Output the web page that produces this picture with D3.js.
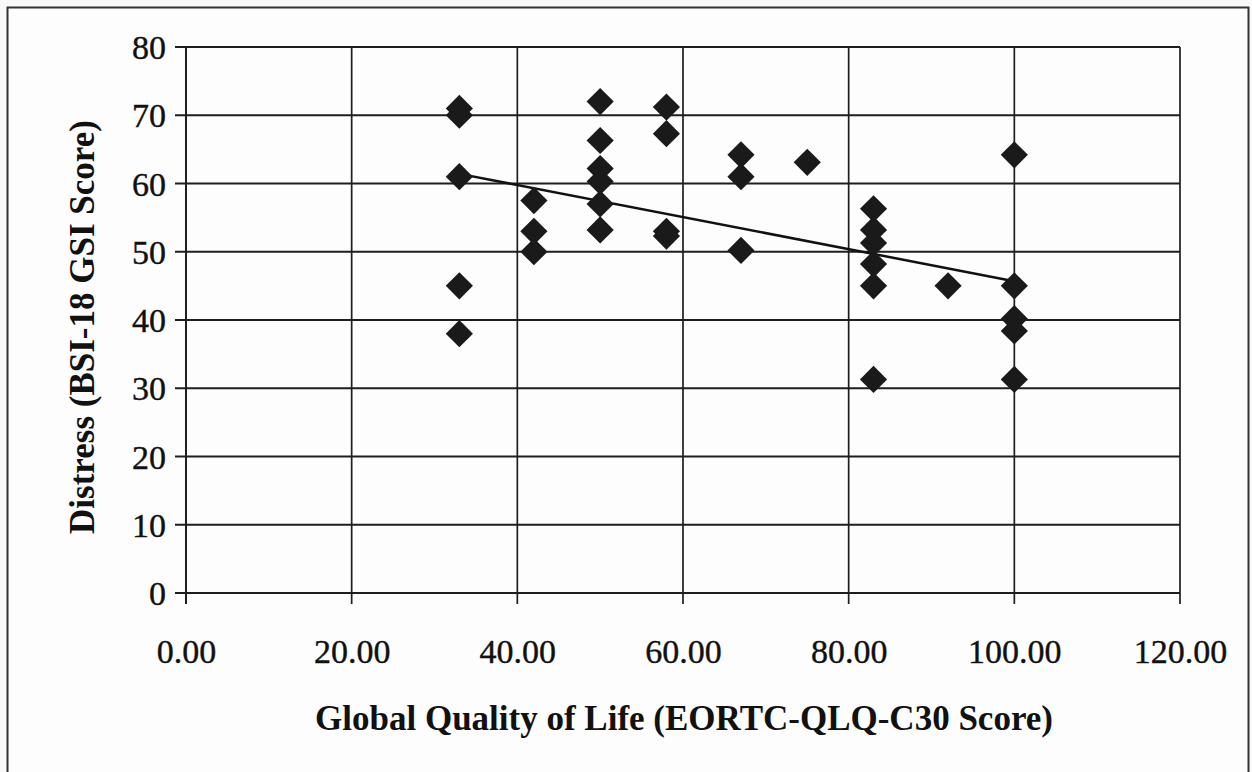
<!DOCTYPE html>
<html>
<head>
<meta charset="utf-8">
<script src="https://cdn.jsdelivr.net/npm/d3@7"></script>
<style>
  body { margin: 0; background: #f9f9f9; }
  svg { display: block; }
</style>
</head>
<body>
<div id="chart"></div>
<script>
'use strict';

// values
const qolScores = [33, 33, 33, 33, 33,
                   42, 42, 42,
                   50, 50, 50, 50, 50, 50,
                   58, 58, 58, 58,
                   67, 67, 67,
                   75,
                   83, 83, 83, 83, 83, 83,
                   92,
                   100, 100, 100, 100, 100];
const distressScores = [71, 70, 61, 45, 38,
                        57.5, 53, 50,
                        72, 66.3, 62.2, 60.3, 57, 53.2,
                        71.2, 67.3, 53, 52.3,
                        64.2, 61, 50.2,
                        63.1,
                        56.3, 53.2, 51.3, 48.2, 45, 31.3,
                        45,
                        64.2, 45, 40.2, 38.4, 31.3];
const trendX = [33.5, 99.5];
const trendY = [61.3, 45.8];
const xTicks = [0, 20, 40, 60, 80, 100, 120];
const yTicks = [0, 10, 20, 30, 40, 50, 60, 70, 80];

const width = 1252, height = 772;
const margin = {left: 186, right: 72, top: 47, bottom: 179};

const svg = d3.select("#chart")
  .append("svg")
    .attr("width", width)
    .attr("height", height);

// scanned page frame
svg.append("rect")
  .attr("x", 7.5).attr("y", 7.5)
  .attr("width", 1241).attr("height", 780)
  .attr("fill", "#fdfdfd")
  .attr("stroke", "#333")
  .attr("stroke-width", 2);

let x = d3.scaleLinear()
  .domain([0, 120])
  .range([margin.left, width - margin.right]);

let y = d3.scaleLinear()
  .domain([0, 80])
  .range([height - margin.bottom, margin.top]);

const ink = "#1e1e1e";

// gridlines
svg.append("g")
  .selectAll("line")
  .data(yTicks)
  .enter().append("line")
    .attr("x1", x(0) - 11).attr("x2", x(120))
    .attr("y1", d => y(d)).attr("y2", d => y(d))
    .attr("stroke", ink).attr("stroke-width", 2.2);

svg.append("g")
  .selectAll("line")
  .data(xTicks)
  .enter().append("line")
    .attr("x1", d => x(d)).attr("x2", d => x(d))
    .attr("y1", y(80)).attr("y2", y(0) + 11)
    .attr("stroke", ink).attr("stroke-width", d => d === 0 ? 2 : 1.7);

// axes labels via d3 axes, lines hidden
let xAxis = svg.append("g")
  .attr("transform", "translate(0," + y(0) + ")")
  .call(d3.axisBottom(x).tickValues(xTicks).tickFormat(d3.format(".2f")).tickSize(0).tickPadding(46));

let yAxis = svg.append("g")
  .attr("transform", "translate(" + x(0) + ",0)")
  .call(d3.axisLeft(y).tickValues(yTicks).tickSize(0).tickPadding(20));

[xAxis, yAxis].forEach(g => {
  g.select(".domain").remove();
  g.selectAll("text")
    .attr("font-family", "'Liberation Serif', 'Times New Roman', serif")
    .attr("font-size", 34)
    .attr("fill", "#111")
    .attr("stroke", "#111")
    .attr("stroke-width", 0.4);
});
yAxis.selectAll("text").attr("dy", "0.34em");

// trend line
svg.append("line")
  .attr("x1", x(trendX[0])).attr("y1", y(trendY[0]))
  .attr("x2", x(trendX[1])).attr("y2", y(trendY[1]))
  .attr("stroke", "#111").attr("stroke-width", 2.5);

// diamond markers
let points = qolScores.map((c, i) => ({q: c, d: distressScores[i]}));

svg.append("g")
  .selectAll("path")
  .data(points)
  .enter().append("path")
    .attr("d", d3.symbol(d3.symbolSquare, 370))
    .attr("transform", d => "translate(" + x(d.q) + "," + y(d.d) + ") rotate(45)")
    .attr("fill", "#1a1a1a");

// axis titles
svg.append("text")
  .attr("x", 684).attr("y", 730)
  .attr("text-anchor", "middle")
  .attr("font-family", "'Liberation Serif', 'Times New Roman', serif")
  .attr("font-weight", "bold")
  .attr("font-size", 35)
  .attr("fill", "#111")
  .text("Global Quality of Life (EORTC-QLQ-C30 Score)");

svg.append("text")
  .attr("transform", "translate(94," + 327 + ") rotate(-90)")
  .attr("text-anchor", "middle")
  .attr("font-family", "'Liberation Serif', 'Times New Roman', serif")
  .attr("font-weight", "bold")
  .attr("font-size", 35)
  .attr("fill", "#111")
  .text("Distress (BSI-18 GSI Score)");
</script>
</body>
</html>
